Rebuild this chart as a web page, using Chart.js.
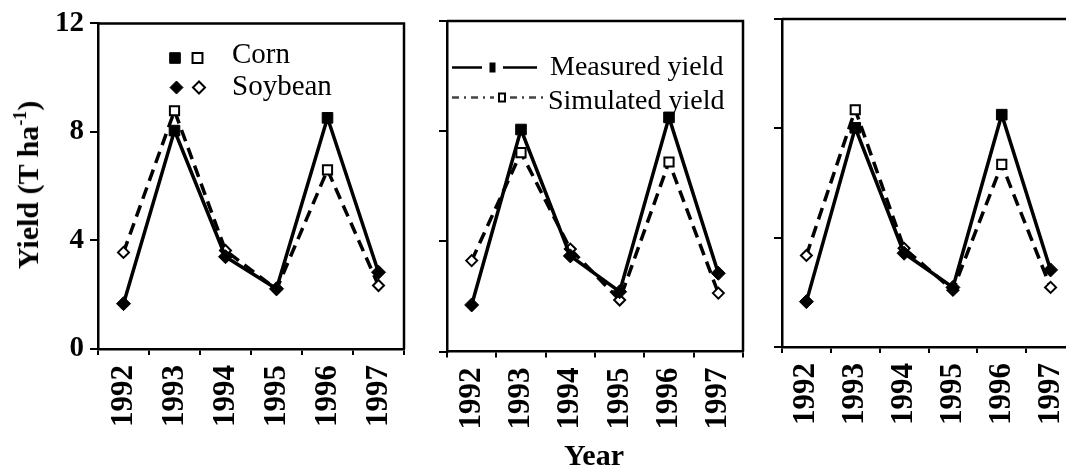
<!DOCTYPE html>
<html>
<head>
<meta charset="utf-8">
<script src="https://cdn.jsdelivr.net/npm/chart.js@4.4.1/dist/chart.umd.min.js"></script>
<style>
  html, body { margin: 0; padding: 0; background: #fff; }
  #wrap { position: relative; width: 1066px; height: 472px; overflow: hidden; }
  #wrap canvas { position: absolute; left: 0; top: 0; }
  .ytitle {
    position: absolute; left: 28px; top: 185px;
    transform: translate(-50%, -50%) rotate(-90deg);
    font: bold 30px "Liberation Serif"; white-space: nowrap; color: #000;
  }
  .ytitle sup { font-size: 18px; vertical-align: 12px; line-height: 0; }
  .xtitle {
    position: absolute; left: 594px; top: 455px;
    transform: translate(-50%, -50%);
    font: bold 30px "Liberation Serif"; color: #000;
  }
</style>
</head>
<body>
<div id="wrap">
  <canvas id="panel1" width="1100" height="472"></canvas>
  <canvas id="panel2" width="1100" height="472"></canvas>
  <canvas id="panel3" width="1100" height="472"></canvas>
  <div class="ytitle">Yield (T ha<sup>-1</sup>)</div>
  <div class="xtitle">Year</div>
</div>
<script>
// Data
var years = ['1992', '1993', '1994', '1995', '1996', '1997'];
var crops = ['Soybean', 'Corn', 'Soybean', 'Soybean', 'Corn', 'Soybean'];
var yTicks = [0, 4, 8, 12];
var cropNames = ['Corn', 'Soybean'];
var seriesNames = ['Measured yield', 'Simulated yield'];

var measured1 = [1.67, 8.05, 3.40, 2.22, 8.52, 2.83];
var simulated1 = [3.56, 8.78, 3.63, 2.20, 6.60, 2.34];
var measured2 = [1.69, 8.06, 3.47, 2.17, 8.50, 2.84];
var simulated2 = [3.30, 7.22, 3.72, 1.87, 6.88, 2.12];
var measured3 = [1.66, 8.02, 3.43, 2.18, 8.50, 2.82];
var simulated3 = [3.35, 8.68, 3.61, 2.08, 6.68, 2.18];

var W = 1100, H = 472;
var SERIF = '"Liberation Serif", "Times New Roman", serif';

function markerStyle(c) { return c === 'Corn' ? 'rect' : 'rectRot'; }
function markerSize(c) { return c === 'Corn' ? 7.5 : 7; }

// top and right border of each plot box
var framePlugin = {
    id: 'frame',
    afterDraw: function(chart) {
        var a = chart.chartArea, ctx = chart.ctx;
        ctx.save();
        ctx.strokeStyle = '#000';
        ctx.lineWidth = 2.5;
        ctx.beginPath();
        ctx.moveTo(a.left, a.top);
        ctx.lineTo(a.right, a.top);
        ctx.lineTo(a.right, a.bottom);
        ctx.stroke();
        ctx.restore();
    }
};

function mark(ctx, style, x, y, r, filled) {
    ctx.fillStyle = filled ? '#000' : '#fff';
    ctx.strokeStyle = '#000';
    ctx.lineWidth = filled ? 1 : 2;
    Chart.helpers.drawPoint(ctx, {pointStyle: style, radius: r, rotation: 0, borderWidth: ctx.lineWidth}, x, y);
}

// Corn / Soybean key in the first panel
var cropLegend = {
    id: 'cropLegend',
    afterDraw: function(chart) {
        var ctx = chart.ctx;
        ctx.save();
        mark(ctx, 'rect', 175, 58, 7.5, true);
        mark(ctx, 'rect', 197.5, 58, 7, false);
        mark(ctx, 'rectRot', 176.5, 87.5, 6.5, true);
        mark(ctx, 'rectRot', 199, 87.5, 6, false);
        ctx.fillStyle = '#000';
        ctx.font = '29px ' + SERIF;
        ctx.textBaseline = 'alphabetic';
        ctx.fillText(cropNames[0], 232, 63);
        ctx.fillText(cropNames[1], 232, 95);
        ctx.restore();
    }
};

// Measured / Simulated key in the second panel
var seriesLegend = {
    id: 'seriesLegend',
    afterDraw: function(chart) {
        var ctx = chart.ctx;
        ctx.save();
        ctx.strokeStyle = '#000';
        ctx.lineWidth = 2.5;
        ctx.beginPath();
        ctx.moveTo(452, 67.5); ctx.lineTo(482, 67.5);
        ctx.moveTo(503, 67.5); ctx.lineTo(537, 67.5);
        ctx.stroke();
        ctx.fillStyle = '#000';
        ctx.fillRect(489.5, 62.5, 6, 10);

        ctx.strokeStyle = '#444';
        ctx.setLineDash([7, 5, 2, 5]);
        ctx.beginPath();
        ctx.moveTo(452, 97.5); ctx.lineTo(494, 97.5);
        ctx.moveTo(510, 97.5); ctx.lineTo(548, 97.5);
        ctx.stroke();
        ctx.setLineDash([]);
        ctx.fillStyle = '#fff';
        ctx.strokeStyle = '#000';
        ctx.lineWidth = 2;
        ctx.fillRect(499, 93.5, 6, 8);
        ctx.strokeRect(499, 93.5, 6, 8);

        ctx.fillStyle = '#000';
        ctx.font = '28px ' + SERIF;
        ctx.fillText(seriesNames[0], 550, 75);
        ctx.fillText(seriesNames[1], 548, 109);
        ctx.restore();
    }
};

function makePanel(id, box, measured, simulated, showLabels, extra) {
    var plugins = [framePlugin];
    if (extra) plugins.push(extra);
    return new Chart(document.getElementById(id), {
        type: 'line',
        data: {
            labels: years,
            datasets: [{
                label: seriesNames[0],
                data: measured,
                borderColor: '#000',
                borderWidth: 3.5,
                pointStyle: crops.map(markerStyle),
                pointRadius: crops.map(markerSize),
                pointBackgroundColor: '#000',
                pointBorderColor: '#000',
                pointBorderWidth: 1,
                tension: 0,
                order: 0
            }, {
                label: seriesNames[1],
                data: simulated,
                borderColor: '#000',
                borderWidth: 3.5,
                borderDash: [12, 7],
                pointStyle: crops.map(markerStyle),
                pointRadius: crops.map(function(c) { return c === 'Corn' ? 6.5 : 5.5; }),
                pointBackgroundColor: '#fff',
                pointBorderColor: '#000',
                pointBorderWidth: 2,
                tension: 0,
                order: 1
            }]
        },
        options: {
            responsive: false,
            animation: false,
            layout: {padding: {left: 0, top: box.top, right: W - box.right, bottom: 0}},
            plugins: {legend: {display: false}, tooltip: {enabled: false}},
            scales: {
                x: {
                    offset: true,
                    grid: {offset: true, drawOnChartArea: false, drawTicks: true, tickLength: 6, color: '#000', lineWidth: 2},
                    border: {display: true, color: '#000', width: 2.5},
                    ticks: {
                        color: '#000', autoSkip: false, minRotation: 90, maxRotation: 90, padding: 10,
                        font: {family: SERIF, weight: 'bold', size: 31}
                    },
                    afterFit: function(s) { s.height = H - box.bottom; }
                },
                y: {
                    min: 0,
                    max: 12,
                    afterBuildTicks: function(s) { s.ticks = yTicks.map(function(v) { return {value: v}; }); },
                    grid: {drawOnChartArea: false, drawTicks: true, tickLength: 8, color: '#000', lineWidth: 2},
                    border: {display: true, color: '#000', width: 2.5},
                    ticks: {
                        display: showLabels, color: '#000', padding: 6,
                        font: {family: SERIF, weight: 'bold', size: 29}
                    },
                    afterFit: function(s) { s.width = box.left; }
                }
            }
        },
        plugins: plugins
    });
}

makePanel('panel1', {left: 98, top: 20, right: 404, bottom: 349}, measured1, simulated1, true, cropLegend);
makePanel('panel2', {left: 447, top: 21, right: 743, bottom: 351.5}, measured2, simulated2, false, seriesLegend);
makePanel('panel3', {left: 782, top: 19, right: 1075, bottom: 347}, measured3, simulated3, false, null);
</script>
</body>
</html>
